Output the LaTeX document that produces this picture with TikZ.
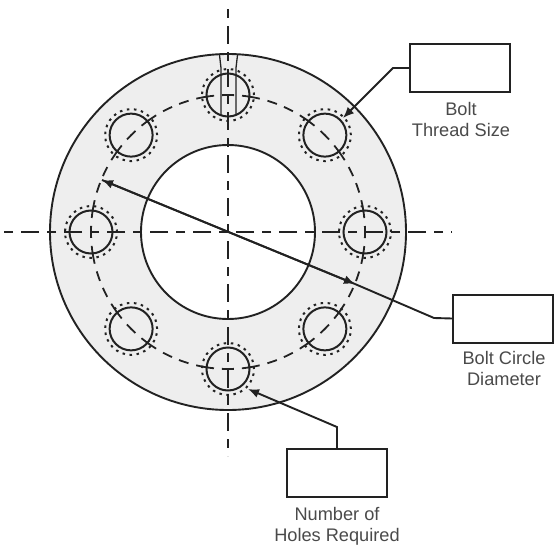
\documentclass[tikz,border=0pt]{standalone}
\usepackage{fontspec}
\setmainfont{Liberation Sans}
\usetikzlibrary{arrows.meta}
\definecolor{flange}{HTML}{EEEEEE}
\definecolor{ink}{HTML}{222222}
\definecolor{lbl}{HTML}{4A4A4A}
\tikzset{
  edge/.style={draw=ink,line width=1.9pt},
  centre/.style={draw=ink,line width=1.9pt,dash pattern=on 9pt off 8pt on 18pt off 8pt},
  boltline/.style={draw=ink,line width=1.8pt,dash pattern=on 12pt off 8pt on 18pt off 8pt on 10pt off 7.6pt on 10pt off 8pt on 18pt off 8pt,dash phase=6pt},
  hole/.style={draw=ink,line width=2pt},
  holedots/.style={draw=ink,line width=2pt,dash pattern=on 2.5pt off 4.6pt},
  thread/.style={draw=ink,line width=1.3pt},
  databox/.style={draw=ink,line width=2pt,fill=white,minimum width=100pt,minimum height=48pt,inner sep=0pt},
  lead/.style={draw=ink,line width=1.9pt},
  tip/.style={-{Latex[length=11pt,width=9pt]}},
  caption/.style={text=lbl,font=\fontsize{18.2}{21}\selectfont,align=center,inner sep=0pt,anchor=north}
}
\begin{document}
\begin{tikzpicture}[x=1pt,y=-1pt]
\useasboundingbox (0,0) rectangle (554,554);
\coordinate (c) at (228,232);
% flange
\path[edge,fill=flange] (c) circle[radius=178pt];
\path[edge,fill=white] (c) circle[radius=87pt];
% bolt circle
\path[boltline] (c) circle[radius=137pt];
% holes
\foreach \a in {0,45,...,315}{
  \path (c) ++(\a:137pt) coordinate (h\a);
  \path[hole] (h\a) circle[radius=21.5pt];
  \path[holedots] (h\a) circle[radius=26pt];
}
% thread lines on top hole
\path[thread] (219.5,55) -- (221,68) -- (221,115);
\path[thread] (237.5,55) -- (236,68) -- (236,115);
% centre lines
\path[centre] (228,9) -- (228,456);
\path[centre] (452,232) -- ++(-1,0) (443,232) -- (3,232);
% boxes
\node[databox] (b1) at (460,68) {};
\node[databox] (b2) at (503,318.5) {};
\node[databox] (b3) at (337,473) {};
% captions
\node[caption] (t1) at (461,102) {Bolt\\Thread Size};
\node[caption] (t2) at (504,351) {Bolt Circle\\Diameter};
\node[caption] (t3) at (337,507) {Number of\\Holes Required};
% connectors
\coordinate (k1) at (393,68);
\coordinate (p1) at (343,118);
\coordinate (k2) at (434,318);
\coordinate (p2) at (102,180);
\coordinate (q2) at (355,284);
\coordinate (k3) at (337,427);
\coordinate (p3) at (248,389);
\path[lead,tip] (b1.west) -- (k1) -- (p1);
\path[lead,tip] (q2) -- (p2);
\path[lead,tip] (p2) -- (q2);
\path[lead] (q2) -- (k2) -- (b2.west);
\path[lead,tip] (b3.north -| k3) -- (k3) -- (p3);
\end{tikzpicture}
\end{document}
